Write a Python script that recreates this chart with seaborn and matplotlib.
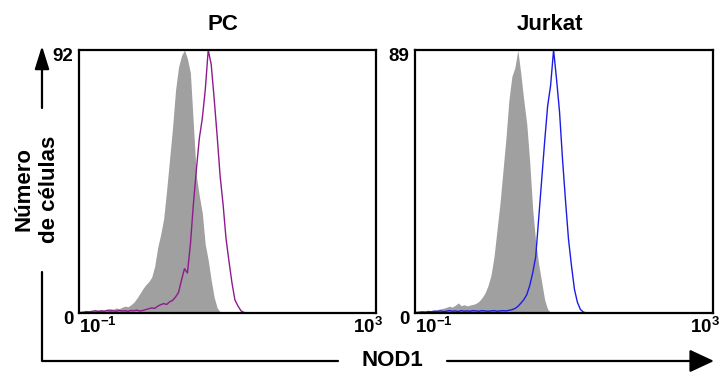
import numpy as np
import matplotlib
matplotlib.use("Agg")
import matplotlib.pyplot as plt
import seaborn as sns
from matplotlib.lines import Line2D
from matplotlib.patches import FancyArrowPatch
from matplotlib.transforms import ScaledTranslation

# channel centres in log10(fluorescence), bin width 0.04 decade
log_fl = [-0.98, -0.94, -0.90, -0.86, -0.82, -0.78, -0.74, -0.70, -0.66, -0.62,
          -0.58, -0.54, -0.50, -0.46, -0.42, -0.38, -0.34, -0.30, -0.26, -0.22,
          -0.18, -0.14, -0.10, -0.06, -0.02, 0.02, 0.06, 0.10, 0.14, 0.18,
          0.22, 0.26, 0.30, 0.34, 0.38, 0.42, 0.46, 0.50, 0.54, 0.58,
          0.62, 0.66, 0.70, 0.74, 0.78, 0.82, 0.86, 0.90, 0.94, 0.98,
          1.02, 1.06, 1.10, 1.14, 1.18, 1.22, 1.26, 1.30]

pc_control = [0.3, 0.5, 0.6, 0.8, 0.7, 1.0, 1.1, 1.3, 1.0, 1.4,
              1.6, 1.3, 1.8, 1.5, 2.0, 2.4, 2.2, 2.9, 3.8, 5.2,
              6.8, 8.5, 9.9, 11.0, 12.6, 16.5, 23, 27.5, 33, 43,
              54, 65, 78, 86, 90, 92, 89, 84, 66, 48,
              41, 35, 24, 18.5, 11.5, 5.5, 1.8, 0.4, 0, 0,
              0, 0, 0, 0, 0, 0, 0, 0]
pc_nod1 = [0.2, 0.3, 0.5, 0.4, 0.6, 0.8, 0.5, 0.7, 0.6, 0.9,
           0.7, 0.8, 0.6, 0.9, 0.7, 0.8, 0.6, 0.9, 0.8, 1.0,
           0.7, 0.9, 1.2, 1.5, 1.8, 1.6, 2.4, 2.9, 3.3, 3.0,
           3.9, 4.4, 5.6, 7.2, 11.5, 15.5, 14.0, 24, 38, 50,
           61, 68, 78, 92, 87, 75, 62, 48, 38, 26,
           18, 10.5, 4.5, 2.5, 0.8, 0.2, 0, 0]

jurkat_control = [0.3, 0.4, 0.5, 0.7, 0.6, 0.9, 1.0, 1.2, 1.4, 1.6,
                  1.9, 2.3, 2.0, 2.6, 3.4, 2.5, 2.8, 2.4, 2.7, 2.9,
                  3.3, 4.0, 5.2, 6.8, 9.3, 12.8, 19, 28, 37, 48,
                  59, 72, 80, 83, 89, 81, 72, 64, 51, 35,
                  24, 16.5, 10.5, 4.5, 1.3, 0.2, 0, 0, 0, 0,
                  0, 0, 0, 0, 0, 0, 0, 0]
jurkat_nod1 = [0.2, 0.3, 0.4, 0.3, 0.5, 0.4, 0.6, 0.5, 0.7, 0.5,
               0.6, 0.8, 0.6, 0.7, 0.5, 0.8, 0.6, 0.7, 0.6, 0.8,
               0.7, 0.6, 0.8, 0.7, 0.6, 0.7, 0.8, 0.6, 0.7, 0.8,
               0.7, 0.9, 1.1, 1.5, 2.2, 3.3, 4.5, 6.2, 9.3, 13.6,
               19, 32, 45, 58, 70, 77, 89, 79, 68, 52,
               38, 25, 16, 8, 3.6, 1.2, 0.3, 0]

panels = ["PC", "Jurkat"]
y_max = [92, 89]
x_ticks = [-1, 3]
x_tick_labels = ["10$^{-1}$", "10$^{3}$"]

sns.set_style("white")
plt.rcParams["font.family"] = ["Liberation Sans", "DejaVu Sans"]
plt.rcParams["font.weight"] = "bold"
plt.rcParams["text.color"] = "black"
plt.rcParams["mathtext.fontset"] = "custom"
plt.rcParams["mathtext.rm"] = "Liberation Sans:bold"
plt.rcParams["mathtext.it"] = "Liberation Sans:bold"
plt.rcParams["mathtext.bf"] = "Liberation Sans:bold"
plt.rcParams["mathtext.default"] = "rm"

fig = plt.figure(figsize=(7.19, 3.74), dpi=100)
ax_pc = fig.add_axes([0.1099, 0.1631, 0.4131, 0.7032])
ax_jk = fig.add_axes([0.5772, 0.1631, 0.4145, 0.7032])

setup = [
    (ax_pc, pc_control, pc_nod1, "#8e1b8c", 0.485),
    (ax_jk, jurkat_control, jurkat_nod1, "#1c1ce6", 0.453),
]

for i, (ax, control, sample, color, title_x) in enumerate(setup):
    sns.histplot(x=log_fl, weights=control, binwidth=0.04, binrange=(-1.0, 1.32),
                 element="poly", fill=True, color="#a0a0a0", alpha=1,
                 linewidth=0, ax=ax)
    sns.histplot(x=log_fl, weights=sample, binwidth=0.04, binrange=(-1.0, 1.32),
                 element="poly", fill=False, color=color, linewidth=1.0, ax=ax)
    ax.set_xlim(-1, 3)
    ax.set_ylim(0, y_max[i])
    ax.set_xlabel("")
    ax.set_ylabel("")
    for s in ax.spines.values():
        s.set_visible(True)
        s.set_linewidth(1.6)
        s.set_color("black")

    ax.set_xticks(x_ticks, x_tick_labels)
    ax.set_yticks([0, y_max[i]], ["0", str(y_max[i])])
    ax.tick_params(axis="both", length=0, labelsize=13.5, colors="black")
    ax.tick_params(axis="x", pad=3)
    ax.tick_params(axis="y", pad=4)

    xl = ax.get_xticklabels()
    xl[0].set_ha("left")
    xl[1].set_ha("right")
    xl[1].set_transform(xl[1].get_transform()
                        + ScaledTranslation(0.07, 0, fig.dpi_scale_trans))
    for lab in ax.get_yticklabels():
        lab.set_transform(lab.get_transform()
                          + ScaledTranslation(0, -0.04, fig.dpi_scale_trans))

    ax.text(title_x, 1.075, panels[i], transform=ax.transAxes, ha="center",
            va="baseline", fontsize=16, fontweight="bold", color="black")

# outer axis arrows
lw = 1.6
fig.add_artist(FancyArrowPatch((0.0584, 0.7112), (0.0584, 0.8770),
                               transform=fig.transFigure,
                               arrowstyle="-|>,head_length=0.7,head_width=0.22",
                               mutation_scale=20, lw=lw, color="black",
                               shrinkA=0, shrinkB=0))
fig.add_artist(Line2D([0.0584, 0.0584, 0.4701], [0.2727, 0.0348, 0.0348],
                      transform=fig.transFigure, color="black", lw=lw))
fig.add_artist(FancyArrowPatch((0.6217, 0.0348), (0.9930, 0.0348),
                               transform=fig.transFigure,
                               arrowstyle="-|>,head_length=0.75,head_width=0.35",
                               mutation_scale=20, lw=lw, color="black",
                               shrinkA=0, shrinkB=0))

fig.text(0.0508, 0.4947, "Número\nde células", rotation=90, ha="center",
         va="center", multialignment="center", fontsize=16, fontweight="bold",
         linespacing=1.25, color="black")
fig.text(0.5452, 0.0374, "NOD1", ha="center", va="center", fontsize=16,
         fontweight="bold", color="black")

fig.savefig("out.png", dpi=100)
